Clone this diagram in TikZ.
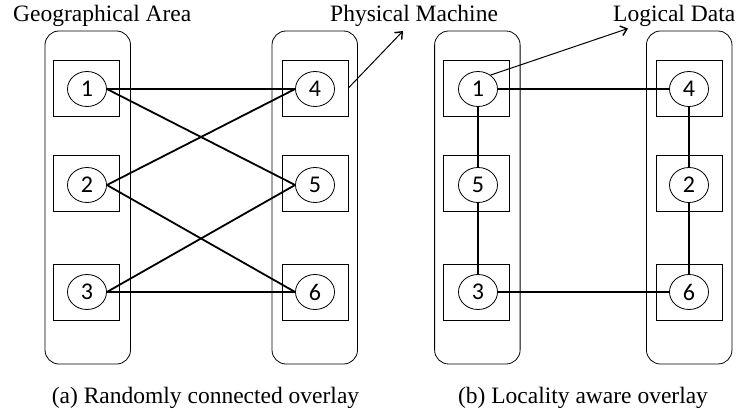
\documentclass[tikz,border=0pt]{standalone}
\usepackage{fontspec}
\setmainfont{Liberation Serif}
\newfontfamily\digitfont{Carlito}
\usetikzlibrary{arrows.meta,shapes.geometric}
\begin{document}
\begin{tikzpicture}[x=1pt,y=-1pt,
  area/.style={draw, rounded corners=14pt, line width=0.8pt, minimum width=85.5pt, minimum height=333pt, inner sep=0pt},
  pbox/.style={draw, line width=0.8pt, minimum width=66pt, minimum height=56pt, inner sep=0pt},
  dnode/.style={draw, ellipse, line width=0.8pt, minimum width=39pt, minimum height=35pt, inner sep=0pt, font=\digitfont\fontsize{24}{24}\selectfont},
  link/.style={line width=1.8pt},
  pointer/.style={line width=1pt, -{Straight Barb[length=6pt,width=10pt,line width=1.4pt]}},
  lbl/.style={inner sep=0pt, font=\fontsize{23.5}{24}\selectfont}
]
\useasboundingbox (0,0) rectangle (739,412);
% ---------- panel (a)
\node[area] (aL) at (87.75,197.5) {};
\node[area] (aR) at (314.75,197.5) {};
\node[pbox] (ab1) at (86.4,88) {};
\node[pbox] (ab2) at (86.4,183.5) {};
\node[pbox] (ab3) at (86.4,292) {};
\node[pbox] (ab4) at (315,88) {};
\node[pbox] (ab5) at (315,183.5) {};
\node[pbox] (ab6) at (315,292) {};
\node[dnode] (a1) at (87,89) {1};
\node[dnode] (a2) at (87,185) {2};
\node[dnode] (a3) at (87,292) {3};
\node[dnode] (a4) at (315,89) {4};
\node[dnode] (a5) at (315,185) {5};
\node[dnode] (a6) at (315,292) {6};
\draw[link] (a1.east) -- (a4.west);
\draw[link] (a1.east) -- (a5.west);
\draw[link] (a2.east) -- (a4.west);
\draw[link] (a2.east) -- (a6.west);
\draw[link] (a3.east) -- (a5.west);
\draw[link] (a3.east) -- (a6.west);
% ---------- panel (b)
\node[area] (bL) at (477.35,197.5) {};
\node[area] (bR) at (689.2,197.5) {};
\node[pbox] (bb1) at (476.3,88) {};
\node[pbox] (bb2) at (476.3,183.5) {};
\node[pbox] (bb3) at (476.3,292) {};
\node[pbox] (bb4) at (688.9,88) {};
\node[pbox] (bb5) at (688.9,183.5) {};
\node[pbox] (bb6) at (688.9,292) {};
\node[dnode] (b1) at (478,89) {1};
\node[dnode] (b5) at (478,185) {5};
\node[dnode] (b3) at (478,292) {3};
\node[dnode] (b4) at (689,89) {4};
\node[dnode] (b2) at (689,185) {2};
\node[dnode] (b6) at (689,292) {6};
\draw[link] (b1.east) -- (b4.west);
\draw[link] (b1.south) -- (b5.north);
\draw[link] (b5.south) -- (b3.north);
\draw[link] (b3.east) -- (b6.west);
\draw[link] (b4.south) -- (b2.north);
\draw[link] (b2.south) -- (b6.north);
% ---------- labels
\node[lbl, anchor=base west] (tGeo) at (13,22) {Geographical Area};
\node[lbl, anchor=base west] (tPhy) at (330,22) {Physical Machine};
\node[lbl, anchor=base west] (tLog) at (613,22) {Logical Data};
\coordinate (pTip) at (403,31);
\coordinate (lTip) at (628,28.5);
\draw[pointer] (ab4.east) -- (pTip);
\draw[pointer] (b1.48) -- (lTip);
\node[lbl, anchor=base] (capA) at (205.5,403) {(a) Randomly connected overlay};
\node[lbl, anchor=base] (capB) at (583,403) {(b) Locality aware overlay};
\end{tikzpicture}
\end{document}
